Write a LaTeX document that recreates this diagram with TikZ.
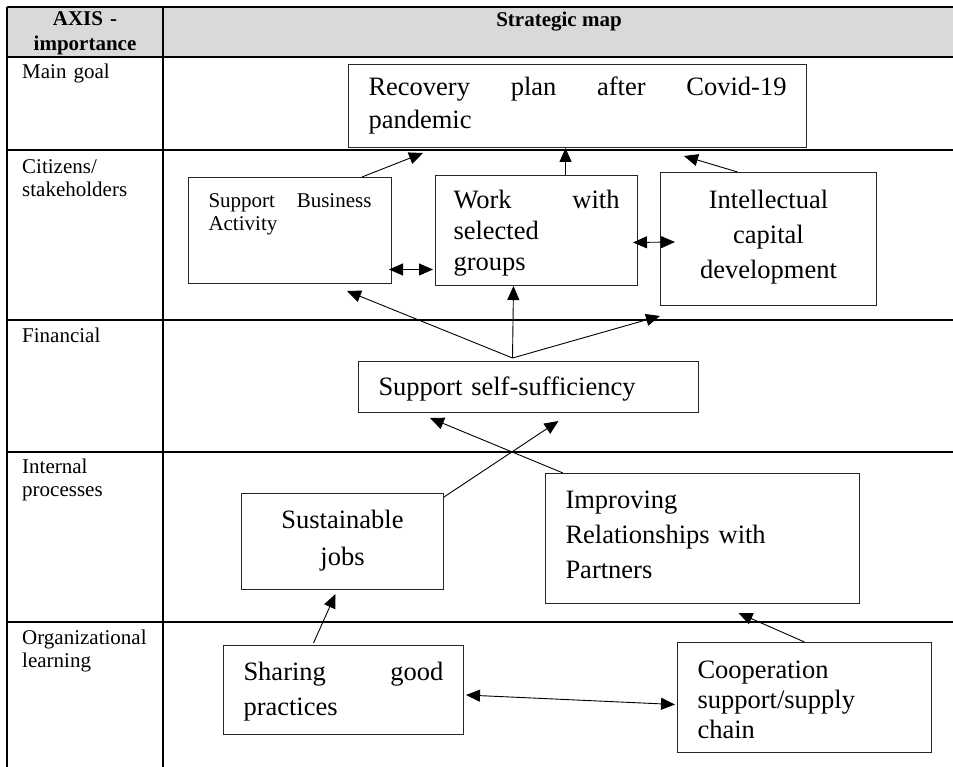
\documentclass[tikz,border=0pt]{standalone}
\usepackage{fontspec}
\setmainfont{Liberation Serif}
\usepackage{tikz}
\usetikzlibrary{arrows.meta}
\usetikzlibrary{positioning}

\definecolor{headgray}{RGB}{217,217,217}

\tikzset{
    tablerule/.style={line width=2.4pt},
    mapbox/.style={draw=black!85, line width=1pt, inner ysep=0pt, inner xsep=20pt,
        anchor=north west, font=\fontsize{26.5}{35}\selectfont},
    axislabel/.style={inner sep=0pt, anchor=base west, text width=135pt, align=left,
        font=\fontsize{21}{23}\selectfont},
    link/.style={line width=0.9pt, -{Triangle[length=14pt,width=12pt]}},
    bilink/.style={line width=0.9pt, {Triangle[length=14pt,width=12pt]}-{Triangle[length=14pt,width=12pt]}},
}

\begin{document}
\begin{tikzpicture}[x=1pt,y=-1pt]
        \useasboundingbox (0,0) rectangle (953,767);
        \fill[headgray] (7,7) rectangle (953,57);
        \draw[tablerule] (7,7) -- (953,7);
        \foreach \y in {57,150,320,452,622}
            \draw[tablerule] (7,\y) -- (953,\y);
        \draw[tablerule] (7,7) -- (7,767);
        \draw[tablerule] (163,7) -- (163,767);

        \node[inner sep=0pt, anchor=base, text width=150pt, align=center,
            font=\fontsize{21}{25}\selectfont\bfseries] (hdaxis) at (85,26) {AXIS -\\importance};
        \node[inner sep=0pt, anchor=base, font=\fontsize{21}{25}\selectfont\bfseries] (hdmap) at (559,27) {Strategic map};

        \node[axislabel] (lblgoal) at (22,79) {Main goal};
        \node[axislabel] (lblcitizens) at (22,174) {Citizens/\\stakeholders};
        \node[axislabel] (lblfinancial) at (22,342) {Financial};
        \node[axislabel] (lblinternal) at (22,473) {Internal\\processes};
        \node[axislabel] (lbllearning) at (22,644) {Organizational\\learning};

        \node[mapbox, text width=418pt, text height=31pt, text depth=52pt, align=left,
            font=\fontsize{26.5}{33}\selectfont] (goal) at (348,64)
            {Recovery\hfill plan\hfill after\hfill Covid-19\\pandemic};
        \node[mapbox, text width=163pt, text height=30pt, text depth=76pt, align=left,
            font=\fontsize{21}{23}\selectfont] (business) at (188,177)
            {Support\hfill Business\\Activity};
        \node[mapbox, inner xsep=18pt, text width=166pt, text height=33pt, text depth=77pt, align=left,
            font=\fontsize{26.5}{31}\selectfont] (work) at (435,175)
            {Work\hfill with\\selected\\groups};
        \node[mapbox, inner xsep=10pt, text width=196pt, text height=36pt, text depth=97pt, align=center] (intel) at (660,172)
            {Intellectual\\capital\\development};
        \node[mapbox, text width=300pt, text height=34pt, text depth=17pt, align=left] (self) at (358,361)
            {Support self-sufficiency};
        \node[mapbox, inner xsep=10pt, text width=182pt, text height=35pt, text depth=61pt, align=center,
            font=\fontsize{26.5}{37}\selectfont] (jobs) at (241,493)
            {Sustainable\\jobs};
        \node[mapbox, text width=274pt, text height=35pt, text depth=95pt, align=left] (partners) at (545,473)
            {Improving\\Relationships with\\Partners};
        \node[mapbox, text width=200pt, text height=35pt, text depth=54pt, align=left] (practices) at (223,645)
            {Sharing\hfill good\\practices};
        \node[mapbox, text width=214pt, text height=36pt, text depth=74pt, align=left,
            font=\fontsize{26.5}{30}\selectfont] (chain) at (677,642)
            {Cooperation\\support/supply\\chain};

        \coordinate (fork) at ([xshift=-16pt,yshift=3pt]self.north);

        \draw[link] ([xshift=72pt]business.north) -- ([xshift=75pt,yshift=-5pt]goal.south west);
        \draw[link] ([xshift=29pt]work.north) -- ([xshift=-12pt]goal.south);
        \draw[link] ([xshift=-31pt]intel.north) -- ([xshift=-123pt,yshift=-8pt]goal.south east);
        \draw[bilink] ([xshift=-3pt,yshift=-39pt]business.east) -- ([xshift=-2pt,yshift=-39pt]work.west);
        \draw[bilink] ([xshift=-5pt,yshift=-12pt]work.east) -- ([xshift=15pt,yshift=-3pt]intel.west);
        \draw[link] (fork) -- ([xshift=57pt,yshift=-7pt]business.south);
        \draw[link] (fork) -- ([xshift=-23pt]work.south);
        \draw[link] (fork) -- ([yshift=-10pt]intel.south west);
        \draw[link] ([yshift=-4pt]jobs.north east) -- ([xshift=30pt,yshift=-8pt]self.south);
        \draw[link] ([xshift=18pt]partners.north west) -- ([xshift=72pt,yshift=-5pt]self.south west);
        \draw[link] ([xshift=-30pt,yshift=2pt]practices.north) -- ([xshift=-7pt,yshift=-4pt]jobs.south);
        \draw[link] (chain.north) -- ([xshift=36pt,yshift=-9pt]partners.south);
        \draw[bilink] ([xshift=2pt,yshift=-5pt]practices.east) -- ([xshift=-2pt,yshift=-7pt]chain.west);
\end{tikzpicture}
\end{document}
